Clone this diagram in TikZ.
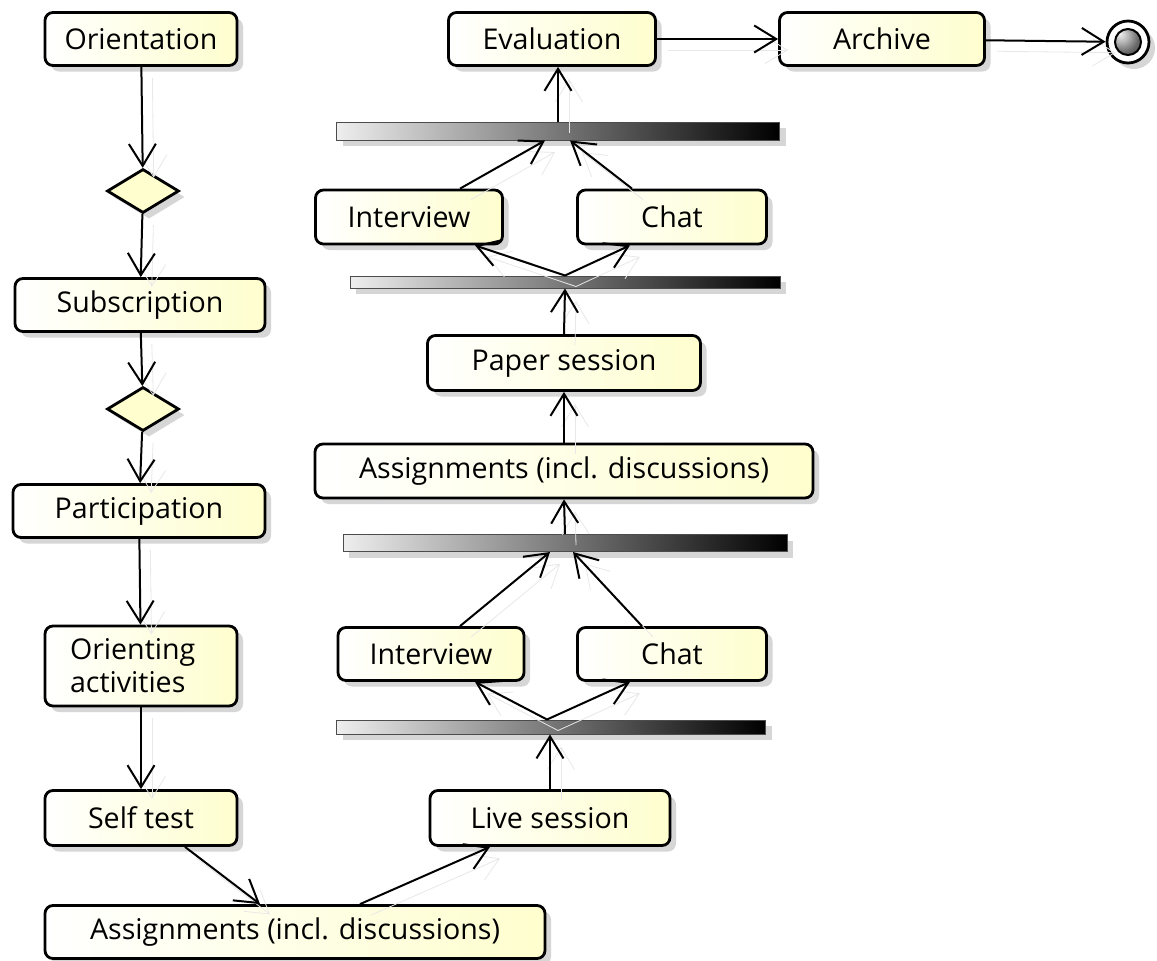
\documentclass[tikz,border=0pt]{standalone}
\usepackage{fontspec}
\setmainfont{Open Sans}
\usetikzlibrary{arrows.meta,shapes.geometric,shadows}

\definecolor{actyellow}{HTML}{FEFECE}
\definecolor{barlight}{HTML}{EEEEEE}

\tikzset{
  softshadow/.style={drop shadow={shadow xshift=3pt, shadow yshift=-3pt, fill=black!16, opacity=1}},
  act/.style={draw, line width=1.4pt, rounded corners=4pt, left color=white, right color=actyellow,
    softshadow, minimum height=26.5pt, inner sep=2pt, font=\fontsize{14.3}{16.5}\selectfont},
  choice/.style={diamond, draw, line width=1.4pt, fill=actyellow, aspect=1.6, inner sep=0pt,
    minimum width=36pt, minimum height=22pt, softshadow},
  forkbar/.style={draw=black!70, line width=0.5pt, left color=barlight, right color=black,
    inner sep=0pt, softshadow},
  finish/.style={circle, draw, line width=1.4pt, fill=white, minimum size=21pt, inner sep=0pt, softshadow,
    path picture={\shade[ball color=gray!80, draw=black, line width=1pt] (path picture bounding box.center) circle (6.5pt);}},
  flow/.style={line width=1pt, -{Straight Barb[length=11pt,width=13.5pt]},
    preaction={draw=black!9, transform canvas={shift={(5.5pt,-5.5pt)}}}}
}

\begin{document}
\begin{tikzpicture}[x=0.5pt, y=-0.5pt]
\path[use as bounding box, fill=white] (0,0) rectangle (1157,960);

% left column
\node[act, minimum width=96pt] (orient) at (141,39) {Orientation};
\node[choice] (ch1) at (143,191) {};
\node[act, minimum width=125pt] (subscr) at (140,305) {Subscription};
\node[choice] (ch2) at (143,409) {};
\node[act, minimum width=126pt] (partic) at (139,511) {Participation};
\node[act, minimum width=96pt, minimum height=40pt, text width=71pt, inner xsep=12.5pt, align=left] (orienting) at (141,666) {Orienting\\activities};
\node[act, minimum width=96pt, minimum height=27.5pt] (selftest) at (141,818) {Self test};
\node[act, minimum width=250pt] (assignlow) at (295,932) {Assignments (incl. discussions)};

% live session and its fork / join
\node[act, minimum width=120pt, minimum height=27.5pt] (live) at (550,818) {Live session};
\node[forkbar, minimum width=214.5pt, minimum height=7pt] (fork1) at (551,727) {};
\node[act, minimum width=93pt] (interview1) at (431,654) {Interview};
\node[act, minimum width=94.5pt] (chat1) at (672,654) {Chat};
\node[forkbar, minimum width=222pt, minimum height=8.5pt] (join1) at (565,543) {};
\node[act, minimum width=249pt, minimum height=27pt] (assignup) at (564,471) {Assignments (incl. discussions)};

% paper session and its fork / join
\node[act, minimum width=136.5pt, minimum height=27.5pt] (paper) at (564,363) {Paper session};
\node[forkbar, minimum width=215pt, minimum height=6pt] (fork2) at (565,282) {};
\node[act, minimum width=93.5pt, minimum height=27pt] (interview2) at (409,217) {Interview};
\node[act, minimum width=94.5pt, minimum height=27pt] (chat2) at (672,217) {Chat};
\node[forkbar, minimum width=221.5pt, minimum height=9pt] (join2) at (558,131) {};

% top row
\node[act, minimum width=103.5pt] (eval) at (552,39) {Evaluation};
\node[act, minimum width=102.5pt] (archive) at (882,39) {Archive};
\node[finish] (end) at (1128,42) {};

% connectors
\draw[flow] (orient) -- (ch1);
\draw[flow] (ch1) -- (subscr);
\draw[flow] (subscr) -- (ch2);
\draw[flow] (ch2) -- (partic);
\draw[flow] (partic) -- (orienting);
\draw[flow] (orienting) -- (selftest);
\draw[flow] ([xshift=22pt]selftest.south) -- ([xshift=-17.5pt]assignlow.north);
\draw[flow] ([xshift=32.5pt]assignlow.north) -- ([xshift=-30pt]live.south);
\draw[flow] (live.north) -- (live.north |- fork1.south);
\draw[flow] ([xshift=-2pt]fork1.north) -- ([xshift=22pt]interview1.south);
\draw[flow] ([xshift=-2pt]fork1.north) -- ([xshift=-21pt]chat1.south);
\draw[flow] ([xshift=14.5pt]interview1.north) -- ([xshift=-7.5pt]join1.south);
\draw[flow] ([xshift=-15pt]chat1.north) -- ([xshift=4pt]join1.south);
\draw[flow] (join1.north) -- (assignup.south);
\draw[flow] (assignup) -- (paper);
\draw[flow] (paper.north) -- (fork2.south);
\draw[flow] (fork2.north) -- ([xshift=33pt]interview2.south);
\draw[flow] (fork2.north) -- ([xshift=-21pt]chat2.south);
\draw[flow] ([xshift=25.5pt]interview2.north) -- ([xshift=-6.5pt]join2.south);
\draw[flow] ([xshift=-20pt]chat2.north) -- ([xshift=6pt]join2.south);
\draw[flow] (join2.north) -- (join2.north |- eval.south);
\draw[flow] (eval) -- (archive);
\draw[flow] (archive) -- (end);
\end{tikzpicture}
\end{document}
